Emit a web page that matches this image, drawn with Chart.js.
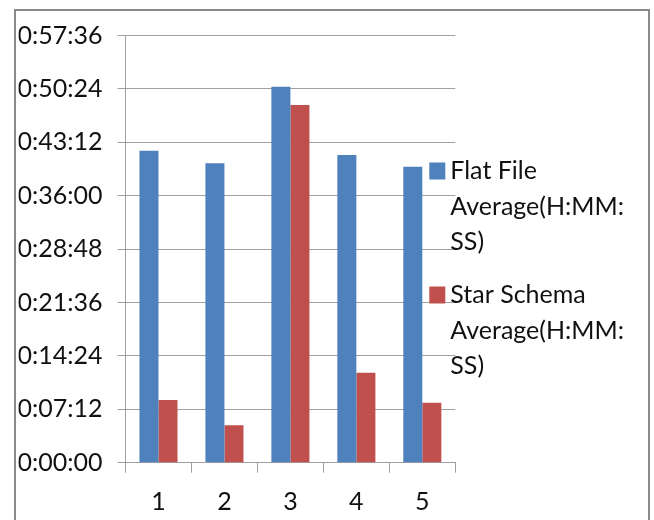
<!DOCTYPE html>
<html>
<head>
<meta charset="utf-8">
<script src="https://cdn.jsdelivr.net/npm/chart.js@4.4.1/dist/chart.umd.min.js"></script>
<style>
  html, body { margin: 0; padding: 0; background: #ffffff; }
  #wrap { position: relative; width: 654px; height: 520px; }
</style>
</head>
<body>
<div id="wrap"><canvas id="chart" width="654" height="520"></canvas></div>
<script>
// Run numbers on the x axis
const categories = ["1", "2", "3", "4", "5"];

// Average durations per run, as H:MM:SS
const flatFileAvg   = ["0:42:04", "0:40:22", "0:50:42", "0:41:29", "0:39:55"];
const starSchemaAvg = ["0:08:27", "0:05:03", "0:48:14", "0:12:08", "0:08:05"];

const seriesNames = ["Flat File Average(H:MM:SS)", "Star Schema Average(H:MM:SS)"];
// Legend text as it wraps in the narrow legend column
const legendLines = [
  ["Flat File", "Average(H:MM:", "SS)"],
  ["Star Schema", "Average(H:MM:", "SS)"]
];

// Value axis: 0:00:00 to 0:57:36 in steps of 0:07:12
const axisMax  = "0:57:36";
const axisStep = "0:07:12";

const toSeconds = s => s.split(":").reduce((acc, p) => acc * 60 + Number(p), 0);
const toHMS = sec => {
  const h = Math.floor(sec / 3600);
  const m = Math.floor((sec % 3600) / 60);
  const s = Math.round(sec % 60);
  return h + ":" + String(m).padStart(2, "0") + ":" + String(s).padStart(2, "0");
};

const FONT = "Lato, 'Open Sans', sans-serif";
const FONT_SIZE = 25;
const TEXT = "#111111";
const GRID = "#a0a0a0";
const colors = ["#4F81BD", "#C0504D"];

// Outer frame and wrapped legend
const framePlugin = {
  id: "frameAndLegend",
  afterDraw(chart) {
    const ctx = chart.ctx;
    const area = chart.chartArea;
    ctx.save();
    ctx.strokeStyle = "#8a8a8a";
    ctx.lineWidth = 2;
    ctx.strokeRect(15, 10, 634, 530);

    ctx.font = FONT_SIZE + "px " + FONT;
    ctx.fillStyle = TEXT;
    ctx.textBaseline = "middle";
    ctx.textAlign = "left";
    const boxX = area.right - 26;
    const lineH = 35.5;
    let y = 171;
    legendLines.forEach((lines, i) => {
      ctx.fillStyle = chart.data.datasets[i].backgroundColor;
      ctx.fillRect(boxX, y - 8.5, 16, 17);
      ctx.fillStyle = TEXT;
      lines.forEach((t, j) => ctx.fillText(t, boxX + 21, y + j * lineH));
      y += lines.length * lineH + 17.5;
    });
    ctx.restore();
  }
};

new Chart(document.getElementById("chart"), {
  type: "bar",
  data: {
    labels: categories,
    datasets: [
      { label: seriesNames[0], data: flatFileAvg.map(toSeconds), backgroundColor: colors[0] },
      { label: seriesNames[1], data: starSchemaAvg.map(toSeconds), backgroundColor: colors[1] }
    ]
  },
  options: {
    responsive: false,
    animation: false,
    devicePixelRatio: 1,
    layout: { padding: { left: 18.5, right: 198.7, top: 35.5, bottom: 0 } },
    datasets: { bar: { categoryPercentage: 0.577, barPercentage: 1.0 } },
    plugins: {
      legend: { display: false },
      tooltip: { enabled: false }
    },
    scales: {
      x: {
        grid: { display: true, offset: true, drawOnChartArea: false, tickLength: 10, color: GRID, lineWidth: 1 },
        border: { color: GRID, width: 1 },
        ticks: { color: TEXT, font: { family: FONT, size: FONT_SIZE }, padding: 14 },
        afterFit(scale) { scale.height = 57.3; }
      },
      y: {
        min: 0,
        max: toSeconds(axisMax),
        grid: { color: GRID, lineWidth: 1, tickLength: 8 },
        border: { color: GRID, width: 1 },
        ticks: {
          stepSize: toSeconds(axisStep),
          color: TEXT,
          font: { family: FONT, size: FONT_SIZE },
          padding: 15,
          callback: v => toHMS(v)
        },
        afterFit(scale) { scale.width = 107; }
      }
    }
  },
  plugins: [framePlugin]
});
</script>
</body>
</html>
